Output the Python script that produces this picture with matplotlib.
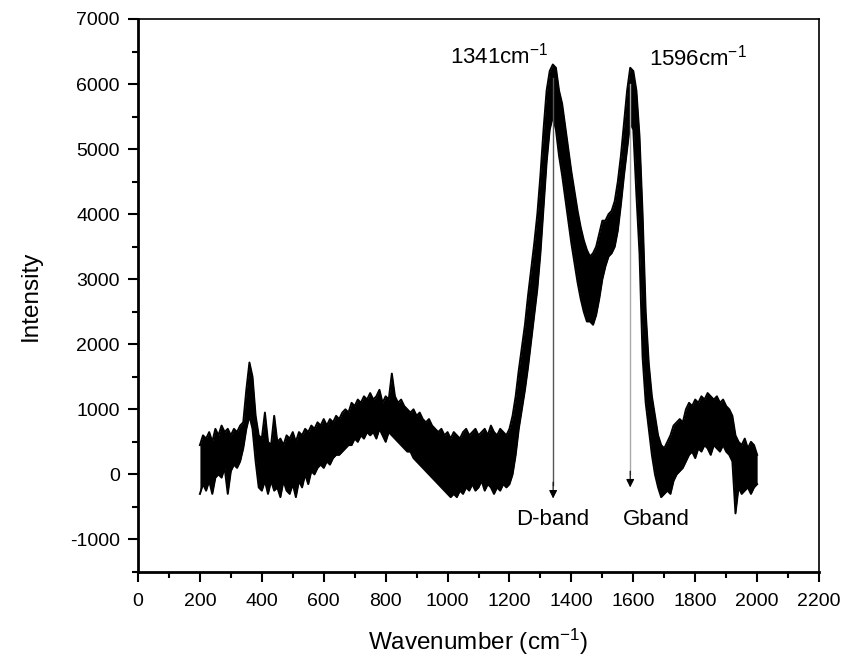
import numpy as np
import matplotlib
matplotlib.use('Agg')
import matplotlib.pyplot as plt
from matplotlib.ticker import MultipleLocator

plt.rcParams['font.family'] = ['Liberation Sans', 'DejaVu Sans']
plt.rcParams['mathtext.fontset'] = 'custom'
plt.rcParams['mathtext.rm'] = 'Liberation Sans'
plt.rcParams['mathtext.it'] = 'Liberation Sans:italic'
plt.rcParams['axes.unicode_minus'] = False

# Raman spectrum, every 10 cm-1 as the top and bottom of the noisy band
wavenumber = list(range(200, 2001, 10))

band_top = [
    450, 600, 550, 650, 500, 700, 600, 750, 650, 700,
    600, 700, 650, 750, 800, 1300, 1720, 1500, 900, 600,
    550, 950, 500, 450, 900, 500, 550, 450, 600, 550,
    650, 500, 650, 600, 700, 650, 750, 700, 800, 750,
    850, 750, 850, 800, 900, 850, 950, 1000, 950, 1100,
    1050, 1150, 1100, 1200, 1150, 1250, 1150, 1200, 1300, 1100,
    1200, 1150, 1550, 1200, 1100, 1150, 1050, 1000, 950, 1000,
    900, 950, 850, 800, 850, 750, 700, 650, 700, 600,
    650, 550, 650, 600, 550, 650, 700, 600, 650, 700,
    600, 650, 700, 600, 750, 650, 600, 700, 650, 600,
    700, 900, 1200, 1600, 1950, 2300, 2750, 3150, 3550, 4000,
    4600, 5300, 5900, 6200, 6300, 6250, 5900, 5700, 5350, 5000,
    4650, 4350, 4050, 3800, 3600, 3450, 3350, 3400, 3500, 3700,
    3900, 3900, 4000, 4050, 4200, 4500, 4900, 5400, 5900, 6250,
    6200, 5900, 5200, 4000, 2500, 1700, 1200, 900, 600, 450,
    400, 500, 600, 750, 800, 850, 800, 1000, 1100, 1050,
    1150, 1100, 1200, 1150, 1250, 1200, 1150, 1200, 1100, 1150,
    1050, 1000, 900, 600, 500, 450, 550, 400, 500, 450,
    300,
]

band_bottom = [
    -300, -150, -250, -100, -300, -50, 0, -50, 100, -300,
    50, 150, 100, 200, 400, 700, 900, 700, 200, -200,
    -250, -100, -300, -100, -250, -200, -350, -100, -250, -300,
    -150, -350, -100, -200, 0, -150, 50, 0, 100, 150,
    100, 200, 150, 250, 300, 300, 350, 400, 450, 450,
    550, 500, 600, 550, 650, 600, 650, 550, 700, 600,
    500, 650, 600, 550, 500, 450, 400, 350, 350, 250,
    200, 150, 100, 50, 0, -50, -100, -150, -200, -250,
    -300, -350, -300, -350, -250, -300, -200, -250, -150, -250,
    -200, -100, -250, -150, -200, -300, -200, -250, -150, -200,
    -150, 0, 300, 700, 1000, 1300, 1650, 2050, 2450, 2850,
    3400, 4100, 4800, 5300, 5500, 5300, 4900, 4600, 4250, 3900,
    3550, 3250, 2950, 2700, 2500, 2350, 2350, 2300, 2450, 2700,
    3000, 3200, 3350, 3400, 3500, 3750, 4150, 4600, 5000, 5400,
    5300, 4300, 3400, 1800, 1100, 700, 300, 0, -200, -350,
    -300, -250, -300, -100, 0, 50, 100, 200, 300, 350,
    250, 400, 350, 450, 400, 300, 450, 400, 350, 450,
    350, 300, 200, -600, -200, -300, -250, -200, -300, -200,
    -150,
]

peak_labels = ['1341cm$^{-1}$', '1596cm$^{-1}$']
peak_label_pos = [(1168, 6440), (1810, 6400)]
band_names = ['D-band', 'Gband']
arrow_x = [1341, 1590]
arrow_top = [6100, 6000]
arrow_tip = [-370, -200]
arrow_colors = ['#555555', '#aaaaaa']
band_name_pos = [(1340, -690), (1674, -690)]

fig = plt.figure(figsize=(8.45, 6.64), dpi=100)
ax = fig.add_axes([0.1633, 0.1386, 0.806, 0.8328])

ax.fill_between(wavenumber, band_bottom, band_top, color='black', lw=0)
ax.plot(wavenumber, band_top, color='black', lw=1.4)
ax.plot(wavenumber, band_bottom, color='black', lw=1.4)

for x, y0, y1, c in zip(arrow_x, arrow_top, arrow_tip, arrow_colors):
    ax.plot([x, x], [y0, y1 + 200], color=c, lw=1.0)
    ax.annotate('', xy=(x, y1), xytext=(x, y1 + 250),
                arrowprops=dict(arrowstyle='-|>', color='black', lw=0.8,
                                mutation_scale=12, shrinkA=0, shrinkB=0))

for txt, (x, y) in zip(peak_labels, peak_label_pos):
    ax.text(x, y, txt, ha='center', va='center', fontsize=16)
for txt, (x, y) in zip(band_names, band_name_pos):
    ax.text(x, y, txt, ha='center', va='center', fontsize=16)

ax.set_xlim(0, 2200)
ax.set_ylim(-1500, 7000)
ax.xaxis.set_major_locator(MultipleLocator(200))
ax.xaxis.set_minor_locator(MultipleLocator(100))
ax.set_yticks(range(-1000, 7001, 1000))
ax.yaxis.set_minor_locator(MultipleLocator(500))

ax.tick_params(which='both', direction='out', top=False, right=False, width=1.5, labelsize=14)
ax.tick_params(which='major', length=7)
ax.tick_params(which='minor', length=4)
ax.tick_params(axis='x', which='major', pad=8)
ax.tick_params(axis='y', which='major', pad=6)

for side in ['left', 'bottom']:
    ax.spines[side].set_linewidth(2)
for side in ['top', 'right']:
    ax.spines[side].set_linewidth(1.2)

ax.set_xlabel('Wavenumber (cm$^{-1}$)', fontsize=17.5, labelpad=12)
ax.set_ylabel('Intensity', fontsize=17.5, labelpad=20)

fig.savefig('out.png', dpi=100)
